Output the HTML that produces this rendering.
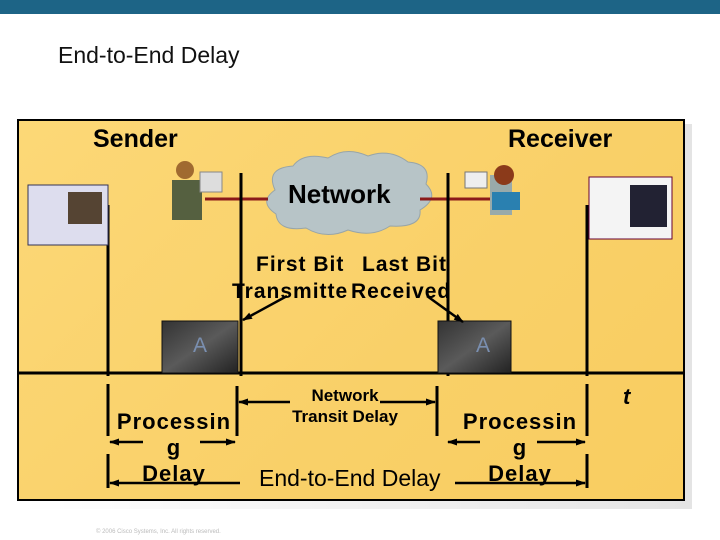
<!DOCTYPE html>
<html><head><style>
body{margin:0;width:720px;height:540px;background:#fff;position:relative;overflow:hidden;font-family:"Liberation Sans",sans-serif}
.t{position:absolute;font-weight:bold;color:#000}
</style></head><body>
<div style="position:absolute;left:0;top:0;width:720px;height:14px;background:#1d6486"></div>
<div style="position:absolute;left:58px;top:42px;font-size:23px;color:#111">End-to-End Delay</div>
<div style="position:absolute;left:22px;top:124px;width:670px;height:385px;background:linear-gradient(90deg,#fff,#e4e4e4)"></div>
<div style="position:absolute;left:17px;top:119px;width:664px;height:378px;border:2px solid #000;background:linear-gradient(135deg,#fcd877,#f9d068 60%,#f9cd60)"></div>
<svg style="position:absolute;left:0;top:0" width="720" height="540">
<defs><marker id="a" markerUnits="userSpaceOnUse" markerWidth="10" markerHeight="8" refX="9" refY="4" orient="auto"><path d="M0,0.5L10,4L0,7.5z" fill="#000"/></marker>
<linearGradient id="g" x1="0" y1="0" x2="1" y2="1"><stop offset="0" stop-color="#333"/><stop offset=".5" stop-color="#5a5a5a"/><stop offset="1" stop-color="#222"/></linearGradient></defs>
<path d="M275,190 q-10,-22 18,-24 q10,-14 35,-8 q18,-12 40,-2 q22,-8 40,6 q24,2 18,22 q14,14 -6,26 q2,18 -30,16 q-18,12 -42,4 q-22,10 -42,-2 q-28,4 -30,-14 q-18,-12 -1,-24z" fill="#b7c4c7" stroke="#98a5a8"/>
<line x1="205" y1="199" x2="268" y2="199" stroke="#8b1a1a" stroke-width="3"/>
<line x1="420" y1="199" x2="490" y2="199" stroke="#8b1a1a" stroke-width="3"/>
<g stroke="#000" stroke-width="3">
<line x1="108" y1="205" x2="108" y2="376"/><line x1="241" y1="173" x2="241" y2="376"/>
<line x1="448" y1="173" x2="448" y2="376"/><line x1="587" y1="205" x2="587" y2="376"/>
<line x1="17" y1="373" x2="683" y2="373"/>
<line x1="108" y1="384" x2="108" y2="436"/><line x1="108" y1="454" x2="108" y2="488"/>
<line x1="587" y1="384" x2="587" y2="436"/><line x1="587" y1="454" x2="587" y2="488"/>
<line x1="237" y1="386" x2="237" y2="436"/><line x1="437" y1="386" x2="437" y2="436"/>
</g>
<rect x="162" y="321" width="76" height="52" fill="url(#g)" stroke="#111"/>
<rect x="438" y="321" width="73" height="52" fill="url(#g)" stroke="#111"/>
<g stroke="#000" stroke-width="2.5" fill="none">
<line x1="287" y1="296" x2="243" y2="320" marker-end="url(#a)"/>
<line x1="427" y1="296" x2="463" y2="322" marker-end="url(#a)"/>
<line x1="143" y1="442" x2="110" y2="442" marker-end="url(#a)"/><line x1="200" y1="442" x2="235" y2="442" marker-end="url(#a)"/>
<line x1="290" y1="402" x2="239" y2="402" marker-end="url(#a)"/><line x1="380" y1="402" x2="435" y2="402" marker-end="url(#a)"/>
<line x1="480" y1="442" x2="448" y2="442" marker-end="url(#a)"/><line x1="537" y1="442" x2="585" y2="442" marker-end="url(#a)"/>
<line x1="240" y1="483" x2="110" y2="483" marker-end="url(#a)"/><line x1="455" y1="483" x2="585" y2="483" marker-end="url(#a)"/>
</g>
<rect x="28" y="185" width="80" height="60" fill="#dde" stroke="#335"/><rect x="68" y="192" width="34" height="32" fill="#543"/>
<rect x="589" y="177" width="83" height="62" fill="#f4f4f4" stroke="#603"/><rect x="630" y="185" width="37" height="42" fill="#223"/>
<rect x="172" y="180" width="30" height="40" fill="#556040"/><circle cx="185" cy="170" r="9" fill="#a06a30"/><rect x="200" y="172" width="22" height="20" fill="#ddd" stroke="#888"/>
<rect x="490" y="175" width="22" height="40" fill="#9aa"/><circle cx="504" cy="175" r="10" fill="#8b3a1a"/><rect x="492" y="192" width="28" height="18" fill="#2a80b0"/><rect x="465" y="172" width="22" height="16" fill="#eee" stroke="#777"/>
</svg>
<div class="t" style="left:93px;top:125px;font-size:25px">Sender</div>
<div class="t" style="left:508px;top:125px;font-size:25px">Receiver</div>
<div class="t" style="left:288px;top:179px;font-size:26px">Network</div>
<div class="t" style="left:256px;top:253px;font-size:21px;letter-spacing:1px">First Bit</div>
<div class="t" style="left:362px;top:253px;font-size:21px;letter-spacing:1px">Last Bit</div>
<div class="t" style="left:232px;top:280px;font-size:21px;letter-spacing:1px">Transmitte</div>
<div class="t" style="left:351px;top:280px;font-size:21px;letter-spacing:1px">Received</div>
<div style="position:absolute;left:193px;top:334px;font-size:21px;color:#7a8fb0">A</div>
<div style="position:absolute;left:476px;top:334px;font-size:21px;color:#7a8fb0">A</div>
<div class="t" style="left:108px;top:409px;width:132px;text-align:center;font-size:22px;line-height:26px;letter-spacing:1px">Processin<br>g<br>Delay</div>
<div class="t" style="left:454px;top:409px;width:132px;text-align:center;font-size:22px;line-height:26px;letter-spacing:1px">Processin<br>g<br>Delay</div>
<div class="t" style="left:270px;top:385px;width:150px;text-align:center;font-size:17px;line-height:21px">Network<br>Transit Delay</div>
<div style="position:absolute;left:259px;top:465px;font-size:23px;">End-to-End Delay</div>
<div style="position:absolute;left:623px;top:384px;font-size:22px;font-style:italic;font-weight:bold">t</div>
<div style="position:absolute;left:96px;top:529px;font-size:6px;color:#bbb">© 2006 Cisco Systems, Inc. All rights reserved.</div>
</body></html>
